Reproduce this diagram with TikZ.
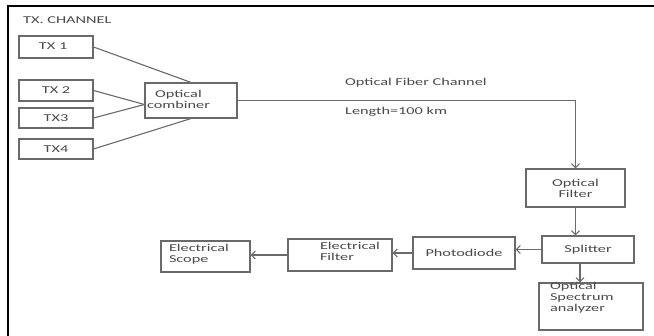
\documentclass[tikz,border=0pt]{standalone}
\usepackage{fontspec}
\setmainfont{Carlito}[FakeStretch=1.55]
\usetikzlibrary{arrows.meta}
\definecolor{ln}{HTML}{6A6A6A}
\definecolor{txc}{HTML}{4A4A4A}
\newcommand\lbx[4]{\makebox[#1pt][l]{\hspace{#2pt}\raisebox{#3pt}[\height][\depth]{\begin{tabular}{@{}l@{}}#4\end{tabular}}}}
\begin{document}
\begin{tikzpicture}[x=1pt,y=-1pt,
  every node/.style={font=\fontsize{10.5}{11}\selectfont, text=txc},
  box/.style={draw=ln, line width=1.1pt, inner sep=0pt, align=center},
  conn/.style={draw=ln, line width=1.1pt},
  arr/.style={conn, -{Straight Barb[length=4pt,width=8pt]}}]
\useasboundingbox (0,0) rectangle (654,336);
\fill[white] (0,0) rectangle (654,336);
% frame
\draw[line width=2.5pt] (8,336) -- (8,6) -- (654,6);
% title
\node[anchor=west, inner sep=0pt] (title) at (23,20) {TX. CHANNEL};
% transmitters
\node[box, minimum width=74pt, minimum height=22pt] (tx1) at (56,47) {\lbx{74}{20}{0}{TX 1}};
\node[box, minimum width=74pt, minimum height=21pt] (tx2) at (56,90.5) {TX 2};
\node[box, minimum width=74pt, minimum height=20pt] (tx3) at (56,118) {TX3};
\node[box, minimum width=74pt, minimum height=20pt] (tx4) at (56,149) {TX4};
\node[box, minimum width=92pt, minimum height=35pt] (comb) at (191,100.5)
  {\makebox[92pt][l]{\hspace{2pt}\begin{tabular}{@{}c@{}}Optical\\combiner\end{tabular}}};
% receiver chain
\node[box, minimum width=99pt, minimum height=38pt] (ofilt) at (575.5,188) {Optical\\Filter};
\node[box, minimum width=92pt, minimum height=27pt] (split) at (588,249.5) {Splitter};
\node[box, minimum width=104pt, minimum height=47pt] (osa) at (591,306.5)
  {\lbx{104}{11}{8}{Optical\\Spectrum\\analyzer}};
\node[box, minimum width=102pt, minimum height=32pt] (phd) at (464,253) {Photodiode};
\node[box, minimum width=104pt, minimum height=32pt] (efilt) at (340,255)
  {\lbx{104}{32}{2}{Electrical\\Filter}};
\node[box, minimum width=89pt, minimum height=31pt] (escope) at (205.5,256.5)
  {\lbx{89}{8}{2}{Electrical\\Scope}};
% fibre labels
\node[anchor=west, inner sep=0pt] (fib) at (345,83) {Optical Fiber Channel};
\node[anchor=west, inner sep=0pt] (len) at (345,112) {Length=100 km};
% connectors
\draw[conn] (tx1.east) -- (comb.north);
\draw[conn] (tx2.east) -- ([yshift=-4pt]comb.west);
\draw[conn] (tx3.east) -- ([yshift=-4pt]comb.west);
\draw[conn] (tx4.east) -- (comb.south);
\draw[arr] (comb.east) -| (ofilt.north);
\draw[arr] (ofilt.south) -- (ofilt.south |- split.north);
\draw[arr] (split.west) -- (split.west -| phd.east);
\draw[arr] (phd.west) -- (phd.west -| efilt.east);
\draw[arr] (efilt.west) -- (efilt.west -| escope.east);
\draw[arr] ([xshift=-8pt]split.south) -- ([xshift=-8pt]split.south |- osa.north);
\end{tikzpicture}
\end{document}
